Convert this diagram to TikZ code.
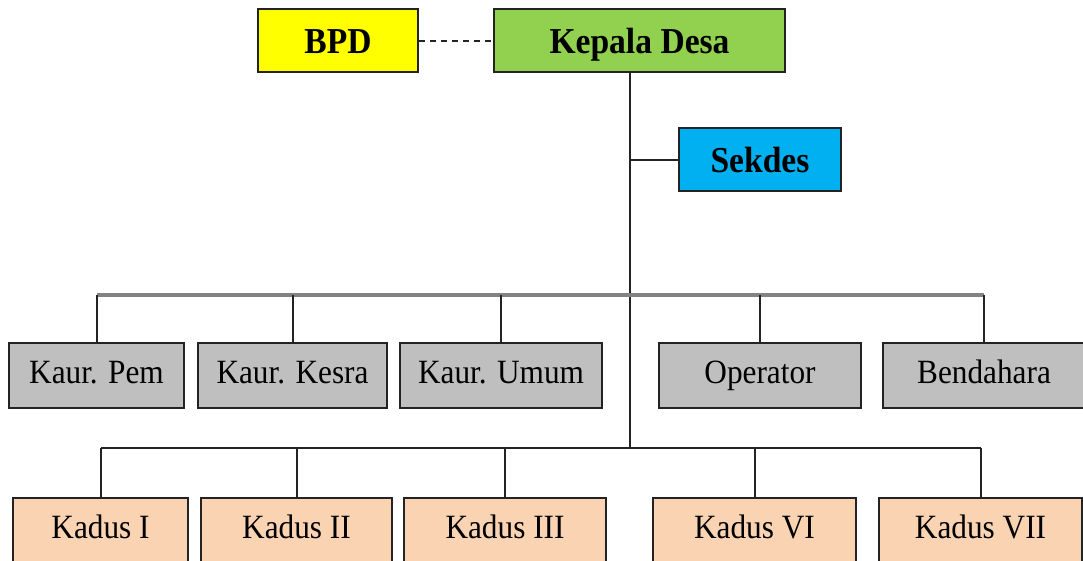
\documentclass[tikz,border=0pt]{standalone}
\usepackage{fontspec}
\setmainfont{Liberation Serif}[FakeStretch=0.92]
\usepackage{xcolor}
\usepackage{tikz}
\usetikzlibrary{calc,positioning}
\definecolor{bpdyellow}{RGB}{255,255,0}
\definecolor{kadesgreen}{RGB}{146,208,80}
\definecolor{sekblue}{RGB}{0,176,240}
\definecolor{kaurgray}{RGB}{191,191,191}
\definecolor{kaduspeach}{RGB}{250,212,178}
\definecolor{linedark}{RGB}{35,35,35}
\definecolor{linegray}{RGB}{130,130,130}
\tikzset{
  box/.style={draw=linedark, line width=2pt, minimum height=63pt, inner sep=0pt,
    text height=22pt, text depth=7pt, font=\fontsize{34}{40}\selectfont},
  headbox/.style={box, text height=30pt, text depth=5pt,
    font=\fontsize{36.5}{42}\selectfont\bfseries},
  kaurbox/.style={box, fill=kaurgray, minimum height=65pt},
  kadusbox/.style={box, fill=kaduspeach, anchor=north, text height=40pt, text depth=32pt},
  link/.style={draw=linedark, line width=2pt},
}

\begin{document}
\begin{tikzpicture}[x=1pt, y=-1pt]
  \useasboundingbox (0,0) rectangle (1083,560);
  \clip (0,0) rectangle (1083,560);
  % top of the chart
  \node[headbox, fill=bpdyellow, minimum width=160pt] (bpd) at (338,40.5) {BPD};
  \node[headbox, fill=kadesgreen, minimum width=291pt] (kades) at (639.5,40.5) {Kepala Desa};
  \node[headbox, fill=sekblue, minimum width=162pt] (sekdes) at (760,159.5) {Sekdes};
  \coordinate (j1) at (630,295);
  \coordinate (j2) at (630,448);
  % kaur row
  \node[kaurbox, minimum width=175pt] (kpem) at (96.5,375.5) {Kaur. Pem};
  \node[kaurbox, minimum width=189pt] (kkesra) at (292.5,375.5) {Kaur. Kesra};
  \node[kaurbox, minimum width=202pt] (kumum) at (501,375.5) {Kaur. Umum};
  \node[kaurbox, minimum width=202pt] (oper) at (760,375.5) {Operator};
  \node[kaurbox, minimum width=202pt] (bend) at (984,375.5) {Bendahara};
  % kadus row
  \node[kadusbox, minimum width=175pt] (kd1) at (100.5,497) {Kadus I};
  \node[kadusbox, minimum width=191pt] (kd2) at (296.5,497) {Kadus II};
  \node[kadusbox, minimum width=202pt] (kd3) at (505,497) {Kadus III};
  \node[kadusbox, minimum width=203pt] (kd6) at (754.5,497) {Kadus VI};
  \node[kadusbox, minimum width=203pt] (kd7) at (980.5,497) {Kadus VII};
  % lines
  \draw[link, dash pattern=on 6pt off 5pt] (bpd.east) -- (kades.west);
  \draw[link] (kades.south -| j1) -- (j2);
  \draw[link] (sekdes.west) -- (sekdes.west -| j1);
  \draw[draw=linegray, line width=3.5pt] (kpem.north |- j1) -- (bend.north |- j1);
  \foreach \n in {kpem,kkesra,kumum,oper,bend}
    \draw[link] (\n.north |- j1) -- (\n.north);
  \draw[link] (kd1.north |- j2) -- (kd7.north |- j2);
  \foreach \n in {kd1,kd2,kd3,kd6,kd7}
    \draw[link] (\n.north |- j2) -- (\n.north);
\end{tikzpicture}
\end{document}
